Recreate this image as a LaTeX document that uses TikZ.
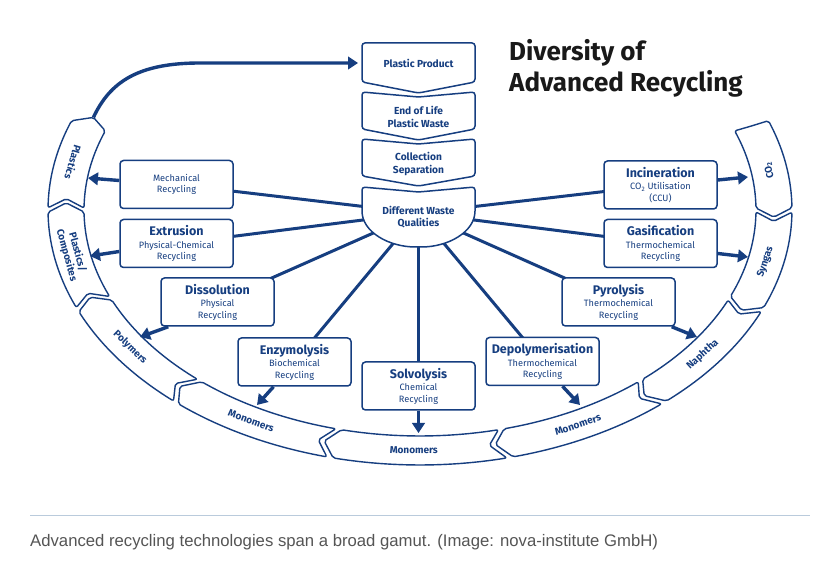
\documentclass[tikz,border=0pt]{standalone}
\usepackage{fontspec}
\setmainfont{Fira Sans}
\newfontfamily\captionfont{Liberation Sans}
\usetikzlibrary{arrows.meta, backgrounds}

\definecolor{navy}{HTML}{163E80}
\definecolor{rulegray}{HTML}{BACBDC}
\definecolor{captiongray}{HTML}{555555}

\tikzset{
  techbox/.style={draw=navy, line width=1.5pt, fill=white, rounded corners=3.5pt,
    minimum width=113pt, minimum height=48pt, inner sep=0pt, align=center,
    text=navy, font=\fontsize{9.2}{11.5}\selectfont},
  chevronbox/.style={draw=navy, line width=1.5pt, fill=white, rounded corners=3pt},
  columntext/.style={text=navy, align=center, font=\fontsize{10.2}{12.5}\selectfont\bfseries},
  ringseg/.style={draw=navy, line width=1.4pt, fill=white, rounded corners=2pt, line join=round},
  ringlabel/.style={text=navy, align=center, inner sep=0pt, font=\fontsize{10}{11}\selectfont\bfseries},
  spoke/.style={draw=navy, line width=3pt},
  outarrow/.style={draw=navy, line width=3.4pt, -{Triangle[length=10pt,width=12.5pt]}},
}
\newcommand{\techtitle}[1]{{\fontsize{12.5}{14}\selectfont\bfseries #1}\\[1pt]}

\begin{document}
\begin{tikzpicture}[x=1pt, y=-1pt]
  \path[use as bounding box] (0,0) rectangle (815,577);

  % Title
  \node[anchor=north west, inner sep=0pt, align=left, text=black!90,
    font=\fontsize{26}{31}\selectfont\bfseries] (title) at (509,39) {Diversity of\\Advanced Recycling};

  % Technology boxes
  \coordinate (hub) at (418.5,213);
  \node[techbox] (mech) at (176.5,184.5) {Mechanical\\Recycling};
  \node[techbox] (extr) at (176.5,243.5) {\techtitle{Extrusion}Physical-Chemical\\Recycling};
  \node[techbox] (diss) at (217.5,302) {\techtitle{Dissolution}Physical\\Recycling};
  \node[techbox] (enzy) at (294.5,362) {\techtitle{Enzymolysis}Biochemical\\Recycling};
  \node[techbox] (solv) at (418.5,386) {\techtitle{Solvolysis}Chemical\\Recycling};
  \node[techbox] (depo) at (542.5,361.5) {\techtitle{Depolymerisation}Thermochemical\\Recycling};
  \node[techbox] (pyro) at (618.5,302) {\techtitle{Pyrolysis}Thermochemical\\Recycling};
  \node[techbox] (gasi) at (660.5,243.5) {\techtitle{Gasification}Thermochemical\\Recycling};
  \node[techbox] (inci) at (660.5,185) {\techtitle{Incineration}CO\textsubscript{2} Utilisation\\(CCU)};

  % Spokes
  \begin{scope}[on background layer]
    \fill[white] (0,0) rectangle (815,577);
    \foreach \b in {mech,extr,diss,enzy,solv,depo,pyro,gasi,inci}
      \draw[spoke] (hub) -- (\b.center);
  \end{scope}

  % Central column
  \draw[chevronbox] (362,43) -- (475,43) -- (475,82) -- (418.5,93) -- (362,82) -- cycle;
  \draw[chevronbox] (362,92) -- (418.5,97) -- (475,92) -- (475,129) -- (418.5,140) -- (362,129) -- cycle;
  \draw[chevronbox] (362,139) -- (418.5,144) -- (475,139) -- (475,176) -- (418.5,186) -- (362,176) -- cycle;
  \draw[chevronbox] (362,187) -- (418.5,192) -- (475,187) -- (475,208)
    .. controls (475,232) and (448,247) .. (418.5,247)
    .. controls (389,247) and (362,232) .. (362,208) -- cycle;
  \node[columntext] (product) at (418.5,63) {Plastic Product};
  \node[columntext] (endoflife) at (418.5,117) {End of Life\\Plastic Waste};
  \node[columntext] (collection) at (418.5,164) {Collection\\Separation};
  \node[columntext] (qualities) at (418.5,217) {Different Waste\\Qualities};
  \coordinate (productin) at (358,63);

  % Outer ring
  \foreach \s/\e/\n/\txt [count=\i] in {-21/0/0/{CO\textsubscript{2}}, 0/23/2.2/Syngas,
      23/49/2.2/Naphtha, 49/76/2.2/Monomers, 76/104/2.2/Monomers, 104/131/2.2/Monomers,
      131/157/2.2/Polymers, 157/180/2.2/{Plastics/\\Composites}, 180/201/2.2/Plastics}{
    \pgfmathsetmacro\sa{\s+0.5}
    \pgfmathsetmacro\ea{\e-0.5}
    \pgfmathsetmacro\m{(\s+\e)/2+1}
    \pgfmathsetmacro\rot{atan2(240*cos(\m),354*sin(\m))}
    \draw[ringseg] plot[domain=\sa:\ea, samples=20, variable=\t] ({420+372*cos(\t)},{210+255*sin(\t)})
      -- ({420+354*cos(\ea+2.2)},{210+240*sin(\ea+2.2)})
      -- plot[domain=\ea:\sa, samples=20, variable=\t] ({420+336*cos(\t)},{210+226*sin(\t)})
      -- ({420+354*cos(\sa+\n)},{210+240*sin(\sa+\n)}) -- cycle;
    \node[ringlabel, rotate=\rot] (seg\i) at ({420+354*cos(\m)},{210+240*sin(\m)}) {\txt};
  }
  \coordinate (plasticstip) at ({420+354*cos(202.7)},{210+240*sin(202.7)});

  % Arrow tips on the ring
  \coordinate (tipmech) at (88,178);
  \coordinate (tipextr) at (90,256);
  \coordinate (tipdiss) at (140,337);
  \coordinate (tipenzy) at (257,405);
  \coordinate (tipsolv) at (418.5,433);
  \coordinate (tipdepo) at (580,405);
  \coordinate (tippyro) at (697,337);
  \coordinate (tipgasi) at (748,257);
  \coordinate (tipinci) at (748,177);

  % Arrows
  \draw[outarrow] ([yshift=4pt]mech.west) -- (tipmech);
  \draw[outarrow] ([yshift=-8pt]extr.west) -- (tipextr);
  \draw[outarrow] ([xshift=8pt]diss.south west) -- (tipdiss);
  \draw[outarrow] ([xshift=-21pt]enzy.south) -- (tipenzy);
  \draw[outarrow] (solv.south) -- (tipsolv);
  \draw[outarrow] ([xshift=20pt]depo.south) -- (tipdepo);
  \draw[outarrow] ([xshift=-4pt]pyro.south east) -- (tippyro);
  \draw[outarrow] ([yshift=-10pt]gasi.east) -- (tipgasi);
  \draw[outarrow] ([yshift=5pt]inci.east) -- (tipinci);
  \draw[outarrow] (plasticstip) .. controls (110,82) and (138,63) .. (200,63) -- (productin);

  % Caption
  \draw[rulegray, line width=1pt] (30,516) -- (810,516);
  \node[anchor=base west, inner sep=0pt, text=captiongray,
    font=\captionfont\fontsize{16.7}{19}\selectfont] (caption) at (30,547)
    {Advanced recycling technologies span a broad gamut. (Image: nova-institute GmbH)};
\end{tikzpicture}
\end{document}
